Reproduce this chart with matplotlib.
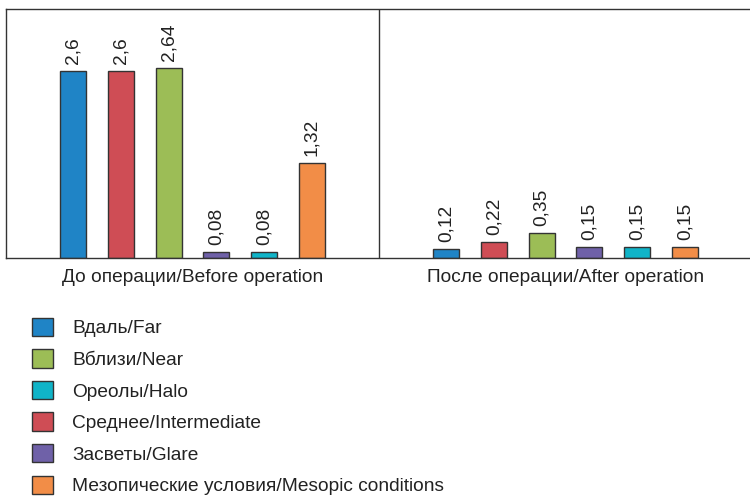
import matplotlib
matplotlib.use("Agg")
import matplotlib.pyplot as plt
from matplotlib.patches import Patch

plt.rcParams['font.family'] = ['Liberation Sans', 'DejaVu Sans']

groups = ["До операции/Before operation", "После операции/After operation"]
series = ["Вдаль/Far", "Среднее/Intermediate", "Вблизи/Near",
          "Засветы/Glare", "Ореолы/Halo", "Мезопические условия/Mesopic conditions"]
colors = ["#1f84c6", "#cf4d55", "#9cbd56", "#6f61a8", "#10b4c8", "#f28d47"]
values = [
    [2.6, 0.12],
    [2.6, 0.22],
    [2.64, 0.35],
    [0.08, 0.15],
    [0.08, 0.15],
    [1.32, 0.15],
]
legend_order = [0, 2, 4, 1, 3, 5]

fig = plt.figure(figsize=(7.5, 4.96), dpi=100)
ax = fig.add_axes([6 / 750, 1 - 258 / 496, 746 / 750, 249 / 496])

width = 0.07
step = 0.128
n = len(series)
for i, (name, vals, c) in enumerate(zip(series, values, colors)):
    xs = [g + (i - (n - 1) / 2) * step for g in range(len(groups))]
    bars = ax.bar(xs, vals, width=width, color=c, edgecolor="#333333",
                  linewidth=1.0, label=name, zorder=2)
    for b, v in zip(bars, vals):
        ax.annotate(f"{v:g}".replace(".", ","),
                    (b.get_x() + b.get_width() / 2, b.get_height()),
                    xytext=(0, 5), textcoords="offset points",
                    rotation=90, ha="center", va="bottom",
                    fontsize=13.8, color="#222222")

ax.set_xlim(-0.5, 1.5)
ax.set_ylim(0, 3.46)
ax.set_yticks([])
ax.set_xticks(range(len(groups)))
ax.set_xticklabels(groups, fontsize=13.8, color="#222222")
ax.tick_params(axis="x", length=0, pad=8)
ax.axvline(0.5, color="#333333", linewidth=1.0)
for s in ["left", "top", "bottom"]:
    ax.spines[s].set_color("#333333")
    ax.spines[s].set_linewidth(1.0)
ax.spines["right"].set_visible(False)

handles = [Patch(facecolor=colors[k], edgecolor="#333333", linewidth=1.0)
           for k in legend_order]
labels = [series[k] for k in legend_order]
fig.legend(handles, labels, loc="upper left",
           bbox_to_anchor=(24 / 750, 1 - 310 / 496), frameon=False,
           fontsize=13.8, handlelength=1.1, handleheight=1.1,
           handletextpad=1.0, labelspacing=0.62, borderaxespad=0,
           labelcolor="#222222")

fig.savefig("out.png", dpi=100)
